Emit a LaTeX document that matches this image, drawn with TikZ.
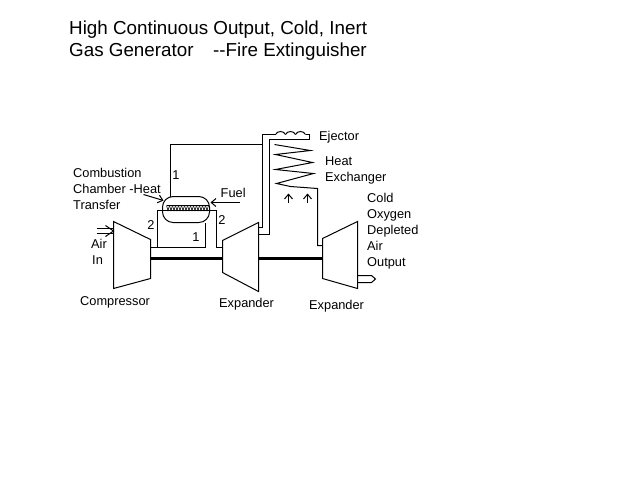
\documentclass[tikz,border=0pt]{standalone}
\usepackage{fontspec}
\setmainfont{Liberation Sans}
\usetikzlibrary{arrows.meta}
\tikzset{
  pipe/.style={line width=.75pt, line join=miter},
  shaft/.style={line width=2.25pt},
  lbl/.style={anchor=base west, inner sep=0pt, xshift=-.6pt, font=\fontsize{9.6}{11}\selectfont},
  num/.style={anchor=base, inner sep=0pt, xshift=-.4pt, font=\fontsize{9.6}{11}\selectfont},
  headline/.style={anchor=base west, inner sep=0pt, xshift=-.6pt, font=\fontsize{14.1}{16}\selectfont},
  barb/.style={-{Straight Barb[length=3.5pt,width=6pt]}}
}
\begin{document}
\begin{tikzpicture}[x=.75pt, y=-.75pt, pipe]
\useasboundingbox (-.5,-.5) rectangle (639.5,479.5);
\node [headline] (title1) at (69,34) {High Continuous Output, Cold, Inert};
\node [headline] (title2) at (69,56) {Gas Generator};
\node [headline] (title3) at (213,56) {-{}-Fire Extinguisher};
\draw (113,221)--(150,239)--(150,278)--(113,288)--cycle;
\draw (222,240)--(258,222)--(258,291)--(222,272)--cycle;
\draw (322,238)--(357,221)--(357,288)--(322,278)--cycle;
\draw [shaft] (150,258)--(222,258);
\draw [shaft] (258,258)--(322,258);
\draw [rounded corners=8pt] (162,196) rectangle (209,222);
\draw (150,247)--(205,247)--(205,222);
\draw (157,247)--(157,210)--(216,210)--(216,247)--(222,247);
\draw (166,205)--(208,205);
\foreach \x in {166,169,...,205}
  \draw [line width=.45pt] (\x,205)--(\x+1.5,210)--(\x+3,205);
\draw (170,196)--(170,144)--(262,144);
\draw (258,227)--(262,227)--(262,134)--(275,134);
\draw (258,234)--(269,234)--(269,139)--(309,139)--(309,134)--(305,134);
\foreach \x in {275,285,295}
  \draw (\x,134) .. controls (\x+2,130) and (\x+8,130) .. (\x+10,134);
\draw (274,144)--(310,150)--(275,154)--(312,162)--(275,169)--(313,173)--(276,183)--(290,186)--(317,188)--(317,245)--(322,245);
\draw [barb] (288,202)--(288,193);
\draw [barb] (307,202)--(307,193);
\draw [barb] (239,202)--(210,202);
\draw [barb] (143,194)--(163,200);
\draw (96,228)--(112,228);
\draw (96,233)--(112,233);
\draw (105,225)--(113,230.5)--(105,236);
\draw (357,275)--(371,275)--(375,278.5)--(371,282)--(357,282);
\node [lbl] (combustion) at (73,177) {Combustion};
\node [lbl] (chamber) at (73,193) {Chamber -Heat};
\node [lbl] (transfer) at (73,209) {Transfer};
\node [num] (one a) at (176,179) {1};
\node [lbl] (fuel) at (220.5,197) {Fuel};
\node [num] (two a) at (151,229) {2};
\node [num] (two b) at (222,224) {2};
\node [num] (one b) at (196,241) {1};
\node [lbl] (air) at (91,248) {Air};
\node [lbl] (in) at (92,264) {In};
\node [lbl] (ejector) at (319,140) {Ejector};
\node [lbl] (heat) at (325,165) {Heat};
\node [lbl] (exchanger) at (325,181) {Exchanger};
\node [lbl] (cold) at (367,202) {Cold};
\node [lbl] (oxygen) at (367,218) {Oxygen};
\node [lbl] (depleted) at (367,234) {Depleted};
\node [lbl] (air out) at (367,250) {Air};
\node [lbl] (output) at (367,266) {Output};
\node [lbl] (compressor) at (80,305) {Compressor};
\node [lbl] (expander a) at (219,307) {Expander};
\node [lbl] (expander b) at (309,309) {Expander};
\end{tikzpicture}
\end{document}
